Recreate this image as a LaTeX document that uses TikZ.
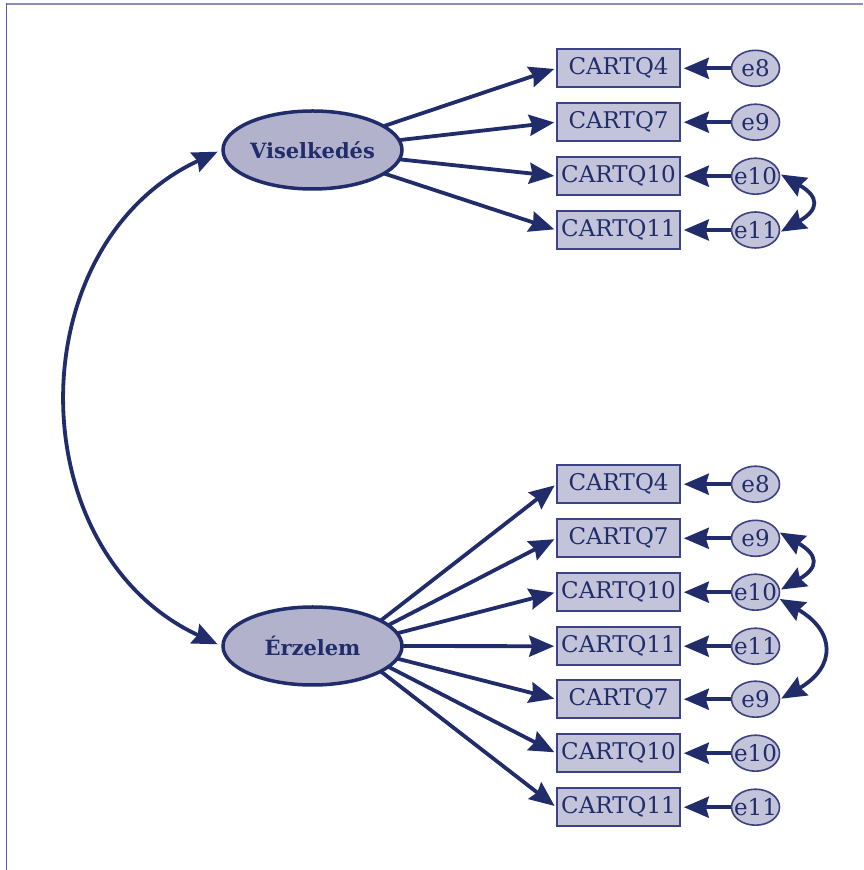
\documentclass[tikz,border=0pt]{standalone}
\usepackage{fontspec}
\setmainfont{DejaVu Serif}
\usetikzlibrary{arrows.meta,shapes.geometric,backgrounds}
\definecolor{navy}{RGB}{33,45,107}
\definecolor{boxline}{RGB}{60,66,130}
\definecolor{latfill}{RGB}{178,178,204}
\definecolor{boxfill}{RGB}{195,195,218}
\definecolor{framtop}{RGB}{140,144,182}
\definecolor{framleft}{RGB}{84,90,168}
\tikzset{
  latent/.style={ellipse, draw=navy, line width=3.5pt, fill=latfill, minimum width=179pt, minimum height=78pt, inner sep=0pt, text=navy, font=\fontsize{21}{21}\selectfont\bfseries},
  obsbox/.style={rectangle, draw=boxline, line width=1.6pt, fill=boxfill, minimum width=123pt, minimum height=38pt, inner sep=0pt, text=navy, font=\fontsize{23}{23}\selectfont},
  errell/.style={ellipse, draw=boxline, line width=1.6pt, fill=boxfill, minimum width=48pt, minimum height=36pt, inner sep=0pt, text=navy, font=\fontsize{23}{23}\selectfont},
  arr/.style={draw=navy, line width=3.8pt, -{Stealth[length=25pt,width=21pt,inset=3pt]}},
  darr/.style={draw=navy, line width=3.8pt, {Stealth[length=25pt,width=21pt,inset=3pt]}-{Stealth[length=25pt,width=21pt,inset=3pt]}},
}
\begin{document}
\begin{tikzpicture}[x=1pt,y=1pt]
\useasboundingbox (0,0) rectangle (863,870);
% frame
\draw[framtop, line width=1.3pt] (6,866) -- (863,866);
\draw[framleft, line width=1.3pt] (6.5,866.6) -- (6.5,0);
% latent variables
\node[latent] (V) at (312.5,720) {Viselkedés};
\node[latent] (E) at (312.5,224) {Érzelem};
\coordinate (Eh) at (348,224);
% top group
\foreach \i/\y/\lab/\elab in {1/801.7/CARTQ4/e8, 2/747.8/CARTQ7/e9, 3/693.8/CARTQ10/e10, 4/640/CARTQ11/e11}{
  \node[obsbox] (tb\i) at (618.5,\y) {\lab};
  \node[errell] (te\i) at (755.5,\y) {\makebox[0pt]{\elab}};
  \draw[arr, shorten >=3pt] (te\i.west) -- (tb\i.east);
  \begin{scope}[on background layer]
    \draw[arr, shorten >=2pt] (V.center) -- (tb\i.west);
  \end{scope}
}
% bottom group
\foreach \i/\y/\lab/\elab in {1/385.8/CARTQ4/e8, 2/331.7/CARTQ7/e9, 3/277.8/CARTQ10/e10, 4/223.8/CARTQ11/e11, 5/170.8/CARTQ7/e9, 6/116.8/CARTQ10/e10, 7/62.8/CARTQ11/e11}{
  \node[obsbox] (bb\i) at (618.5,\y) {\lab};
  \node[errell] (be\i) at (755.5,\y) {\makebox[0pt]{\elab}};
  \draw[arr, shorten >=3pt] (be\i.west) -- (bb\i.east);
  \begin{scope}[on background layer]
    \draw[arr, shorten >=2pt] (Eh) -- (bb\i.west);
  \end{scope}
}
% covariances
\draw[darr, shorten <=4pt, shorten >=4pt] (V.west) to[out=205,in=155,looseness=1.16] (E.west);
\draw[darr, shorten <=1pt, shorten >=1pt] (te3.5) to[out=-30,in=30,looseness=2.0] (te4.-5);
\draw[darr, shorten <=1pt, shorten >=1pt] (be2.15) to[out=-30,in=30,looseness=2.0] (be3.5);
\draw[darr, shorten <=1pt, shorten >=1pt] (be3.-15) to[out=-30,in=30,looseness=1.65] (be5.0);
\end{tikzpicture}
\end{document}
